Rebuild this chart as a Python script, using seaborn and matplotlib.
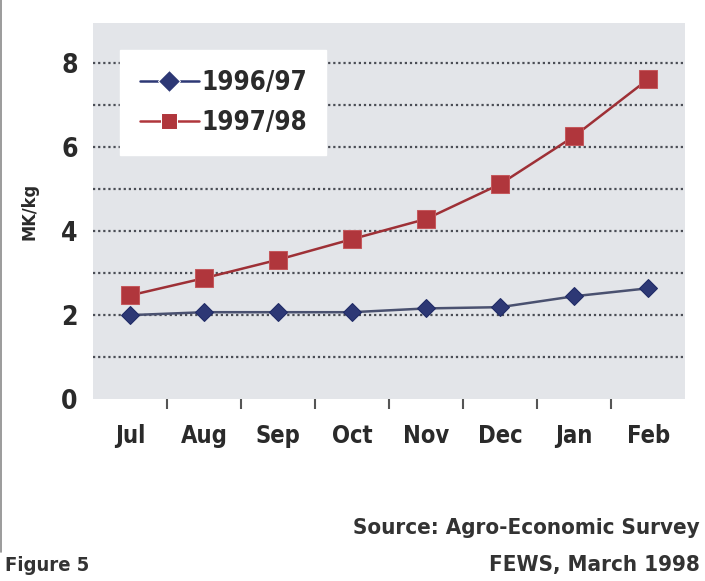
import matplotlib
matplotlib.use("Agg")
import matplotlib.pyplot as plt
import seaborn as sns
import pandas as pd
from matplotlib.ticker import FixedLocator

months = ["Jul", "Aug", "Sep", "Oct", "Nov", "Dec", "Jan", "Feb"]
season_a = "1996/97"
season_b = "1997/98"
values_a = [2.00, 2.07, 2.07, 2.07, 2.16, 2.19, 2.45, 2.64]
values_b = [2.47, 2.88, 3.32, 3.81, 4.29, 5.12, 6.26, 7.62]
y_ticks = [0, 2, 4, 6, 8]

df = pd.DataFrame({
    "month": months * 2,
    "price": values_a + values_b,
    "season": [season_a] * len(months) + [season_b] * len(months),
})

sns.set_theme(style="white")
FONT = ["DejaVu Sans"]
plt.rcParams["font.family"] = FONT
plt.rcParams["font.weight"] = "bold"
plt.rcParams["font.stretch"] = "condensed"

fig = plt.figure(figsize=(7.05, 5.81), dpi=100)
ax = fig.add_axes([0.132, 0.313, 0.840, 0.647])
ax.set_facecolor("#e3e5e9")

sns.lineplot(
    data=df, x="month", y="price", hue="season", style="season",
    palette={season_a: "#2d3875", season_b: "#b0363c"},
    markers={season_a: "D", season_b: "s"}, dashes=False,
    markersize=11, linewidth=1.8, ax=ax, sort=False,
)
for line, mec, ms in zip(ax.lines[:2], ["#1f2a66", "#c4585c"], [9, 13]):
    line.set_markeredgecolor(mec)
    line.set_markersize(ms)
ax.lines[0].set_color("#4a5170")
ax.lines[0].set_markerfacecolor("#2d3875")
ax.lines[1].set_color("#9e3036")
ax.lines[1].set_markerfacecolor("#b0363c")

ax.set_xlim(-0.5, len(months) - 0.5)
ax.set_ylim(0, 8.95)
for g in range(1, 9):
    ax.axhline(g, color="#4a4d55", linewidth=1.6, linestyle=(0, (1.0, 1.3)), zorder=1)

for s in ax.spines.values():
    s.set_visible(False)

ax.yaxis.set_major_locator(FixedLocator(y_ticks))
ax.set_yticklabels([str(t) for t in y_ticks])
ax.tick_params(axis="y", length=0, pad=11, labelsize=19, colors="#2a2a2a")
ax.tick_params(axis="x", which="major", length=0, pad=18, labelsize=17, colors="#2a2a2a")
ax.xaxis.set_minor_locator(FixedLocator([i + 0.5 for i in range(len(months) - 1)]))
ax.tick_params(axis="x", which="minor", bottom=True, length=7, width=1.5,
               color="#555555", direction="out", pad=0)
for lab in ax.get_xticklabels() + ax.get_yticklabels():
    lab.set_fontweight("bold")
    lab.set_fontstretch("condensed")

ax.set_xlabel("")
ax.set_ylabel("MK/kg", fontsize=13, fontweight="bold", fontstretch="condensed",
              color="#2a2a2a", labelpad=16)

leg = ax.legend(
    loc="upper left", bbox_to_anchor=(0.046, 0.928), borderaxespad=0.0,
    frameon=True, fancybox=False,
    framealpha=1.0, facecolor="white", edgecolor="white",
    handlelength=2.3, handletextpad=0.1, borderpad=0.75, labelspacing=0.55,
    prop={"family": FONT, "weight": "bold", "size": 18.5, "stretch": "condensed"},
)
for t in leg.get_texts():
    t.set_color("#2a2a2a")

fig.text(0.993, 0.092, "Source: Agro-Economic Survey", ha="right", va="center",
         fontsize=16, fontweight="bold", fontstretch="condensed", color="#333333")
fig.text(0.993, 0.028, "FEWS, March 1998", ha="right", va="center",
         fontsize=16, fontweight="bold", fontstretch="condensed", color="#333333")
fig.text(0.007, 0.027, "Figure 5", ha="left", va="center",
         fontsize=14.5, fontweight="bold", fontstretch="condensed", color="#333333")
fig.add_artist(plt.Line2D([0.0015, 0.0015], [0.05, 1.0], color="#8a8a8a",
                          linewidth=1.2, transform=fig.transFigure))

fig.savefig("out.png", dpi=100, facecolor="white")
